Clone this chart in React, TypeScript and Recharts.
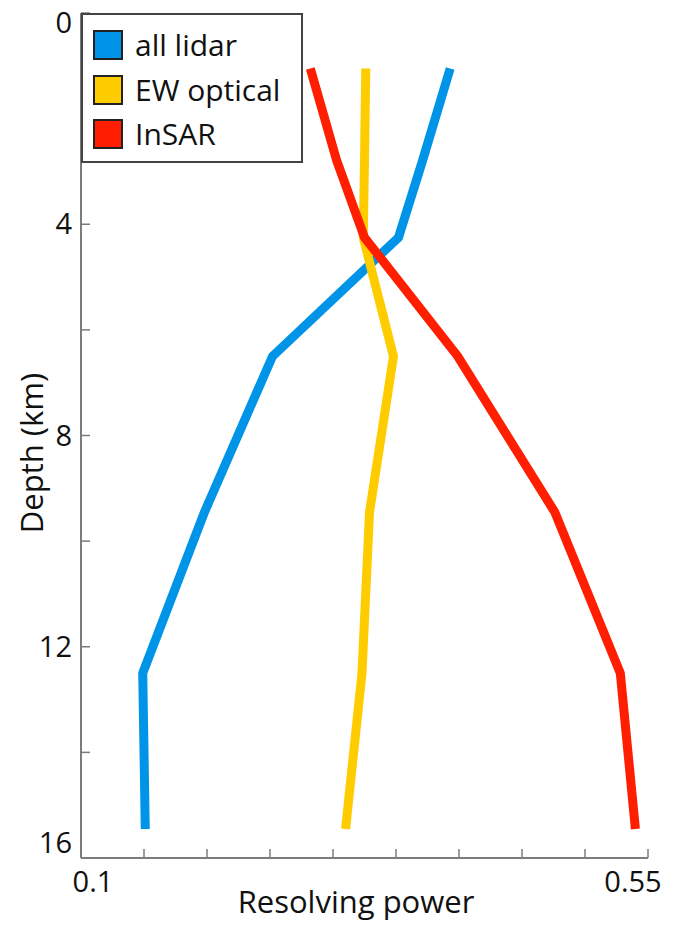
import React from "react";
import { LineChart, Line, XAxis, YAxis, Label } from "recharts";

// depth of each layer (km) and resolving power per data set
const depths = [1.05, 2.8, 4.25, 6.5, 9.45, 12.5, 15.45];
const allLidar = [0.393, 0.371, 0.352, 0.252, 0.198, 0.149, 0.151];
const ewOptical = [0.326, 0.325, 0.324, 0.348, 0.329, 0.323, 0.31];
const insar = [0.282, 0.303, 0.325, 0.399, 0.476, 0.528, 0.54];

const xTicks = [0.1, 0.15, 0.2, 0.25, 0.3, 0.35, 0.4, 0.45, 0.5, 0.55];
const xLabels = ["0.1", "", "", "", "", "", "", "", "", "0.55"];
const yTicks = [0, 2, 4, 6, 8, 10, 12, 14, 16];
const yLabels = ["0", "", "4", "", "8", "", "12", "", "16"];

const series = [
  { key: "lidar", name: "all lidar", color: "#0094E8" },
  { key: "ew", name: "EW optical", color: "#FFCC00" },
  { key: "insar", name: "InSAR", color: "#FF1E00" },
];

const data = depths.map((d, i) => ({
  depth: d,
  lidar: allLidar[i],
  ew: ewOptical[i],
  insar: insar[i],
}));

const FONT = "'Open Sans', sans-serif";
const AXIS = "#7c7c7c";
const TICK = 9;

const idx = (arr: number[], v: number) => arr.findIndex((t) => Math.abs(t - v) < 1e-6);

const BottomTick = (p: any) => {
  const i = idx(xTicks, p.payload.value);
  const label = xLabels[i] || "";
  const dx = i === 0 ? 12 : i === xTicks.length - 1 ? -15 : 0;
  return (
    <g>
      <line x1={p.x} x2={p.x} y1={p.y} y2={p.y - TICK} stroke={AXIS} strokeWidth={1.5} />
      {label && (
        <text x={p.x + dx} y={p.y + 34} textAnchor="middle" fontSize={29} fill="#111" fontFamily={FONT}>
          {label}
        </text>
      )}
    </g>
  );
};

const LeftTick = (p: any) => {
  const i = idx(yTicks, p.payload.value);
  const label = yLabels[i] || "";
  const dy = i === 0 ? 10 : i === yTicks.length - 1 ? -15 : 0;
  return (
    <g>
      <line x1={p.x} x2={p.x + TICK} y1={p.y} y2={p.y} stroke={AXIS} strokeWidth={1.5} />
      {label && (
        <text x={p.x - 9} y={p.y + dy + 10} textAnchor="end" fontSize={29} fill="#111" fontFamily={FONT}>
          {label}
        </text>
      )}
    </g>
  );
};

const TopTick = (p: any) => (
  <line x1={p.x} x2={p.x} y1={p.y} y2={p.y + TICK} stroke={AXIS} strokeWidth={1.5} />
);

const RightTick = (p: any) => (
  <line x1={p.x} x2={p.x - TICK} y1={p.y} y2={p.y} stroke={AXIS} strokeWidth={1.5} />
);

export default function App() {
  return (
    <div style={{ position: "absolute", left: 0, top: 0, width: 677, height: 932, background: "#fff", fontFamily: FONT }}>
      <LineChart
        width={677}
        height={932}
        data={data}
        layout="vertical"
        margin={{ top: 13, right: 29, bottom: 0, left: 0 }}
      >
        <XAxis
          xAxisId="x"
          type="number"
          orientation="bottom"
          domain={[0.1, 0.55]}
          ticks={xTicks}
          interval={0}
          height={74}
          tickSize={0}
          tickMargin={0}
          tickLine={false}
          tick={BottomTick}
          axisLine={{ stroke: AXIS, strokeWidth: 2 }}
          allowDataOverflow
        >
          <Label
            content={() => (
              <text x={356} y={913} textAnchor="middle" fontSize={31} fill="#111" fontFamily={FONT}>
                Resolving power
              </text>
            )}
          />
        </XAxis>
        <XAxis
          xAxisId="top"
          type="number"
          orientation="top"
          domain={[0.1, 0.55]}
          ticks={xTicks}
          interval={0}
          height={0}
          tickSize={0}
          tickMargin={0}
          tickLine={false}
          tick={TopTick}
          axisLine={{ stroke: AXIS, strokeWidth: 2 }}
          allowDataOverflow
        />
        <YAxis
          yAxisId="y"
          dataKey="depth"
          type="number"
          orientation="left"
          domain={[0, 16]}
          ticks={yTicks}
          interval={0}
          width={81}
          tickSize={0}
          tickMargin={0}
          tickLine={false}
          tick={LeftTick}
          axisLine={{ stroke: AXIS, strokeWidth: 2 }}
          allowDataOverflow
        >
          <Label
            content={() => (
              <text
                x={43}
                y={453}
                transform="rotate(-90 43 453)"
                textAnchor="middle"
                fontSize={31}
                fill="#111"
                fontFamily={FONT}
              >
                Depth (km)
              </text>
            )}
          />
        </YAxis>
        <YAxis
          yAxisId="right"
          dataKey="depth"
          type="number"
          orientation="right"
          domain={[0, 16]}
          ticks={yTicks}
          interval={0}
          width={0}
          tickSize={0}
          tickMargin={0}
          tickLine={false}
          tick={RightTick}
          axisLine={{ stroke: AXIS, strokeWidth: 2 }}
          allowDataOverflow
        />
        {series.map((s) => (
          <Line
            key={s.key}
            xAxisId="x"
            yAxisId="y"
            dataKey={s.key}
            name={s.name}
            stroke={s.color}
            strokeWidth={9}
            strokeLinejoin="miter"
            dot={false}
            activeDot={false}
            isAnimationActive={false}
          />
        ))}
      </LineChart>

      {/* legend box, top-left corner of the axes */}
      <div
        style={{
          position: "absolute",
          left: 81,
          top: 13,
          width: 222,
          height: 150,
          boxSizing: "border-box",
          border: "2px solid #444",
          background: "#fff",
        }}
      >
        {series.map((s, i) => (
          <div
            key={s.key}
            style={{
              position: "absolute",
              left: 10,
              top: 13 + i * 44.5,
              display: "flex",
              alignItems: "center",
              height: 34,
            }}
          >
            <span
              style={{
                display: "inline-block",
                width: 30,
                height: 30,
                boxSizing: "border-box",
                background: s.color,
                border: "2px solid #222",
              }}
            />
            <span style={{ marginLeft: 12, fontSize: 30, color: "#111", lineHeight: "34px", whiteSpace: "nowrap" }}>
              {s.name}
            </span>
          </div>
        ))}
      </div>
    </div>
  );
}
